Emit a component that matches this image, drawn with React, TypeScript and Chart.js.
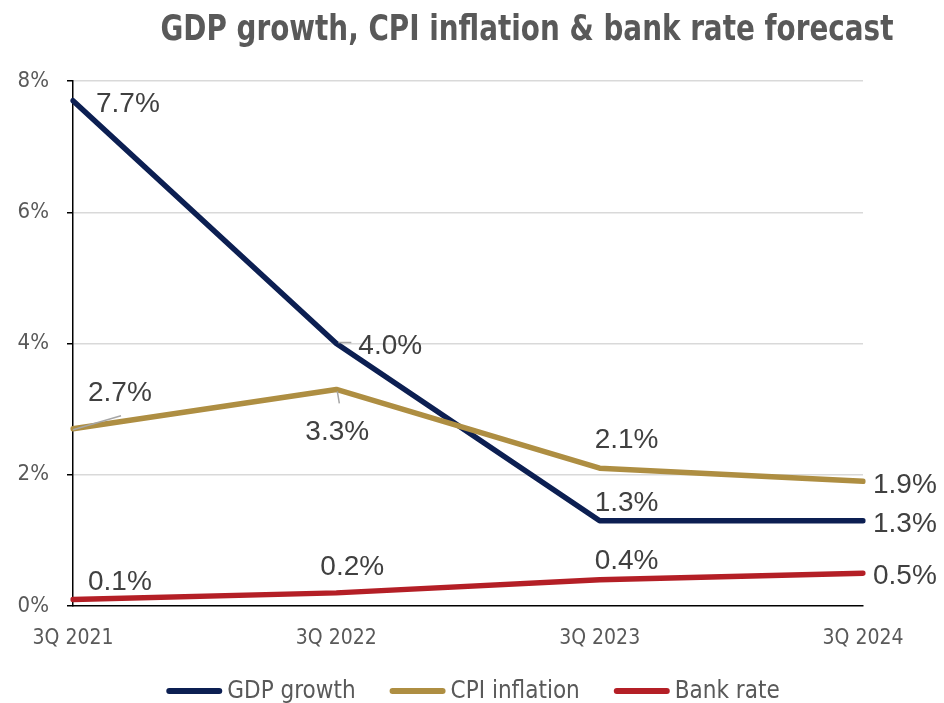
import React, { useEffect, useRef } from "react";
import { Chart, registerables } from "chart.js";

Chart.register(...registerables);

const categories = ["3Q 2021", "3Q 2022", "3Q 2023", "3Q 2024"];
const gdpGrowth = [7.7, 4.0, 1.3, 1.3];
const cpiInflation = [2.7, 3.3, 2.1, 1.9];
const bankRate = [0.1, 0.2, 0.4, 0.5];
const yTicks = [0, 2, 4, 6, 8];
const seriesNames = ["GDP growth", "CPI inflation", "Bank rate"];
const seriesColors = ["#0c1f52", "#ae8e42", "#b41f26"];
const titleText = "GDP growth, CPI inflation & bank rate forecast";

// label offsets (style): [dx to text left, dy to text middle, leader?]
type Off = { dx: number; dy: number; leader?: [number, number, number, number] };
const labelOffsets: Off[][] = [
  [
    { dx: 23, dy: 1 },
    { dx: 22, dy: 0, leader: [2, -1, 15, -1] },
    { dx: -5, dy: -20 },
    { dx: 10, dy: 1 },
  ],
  [
    { dx: 15, dy: -38, leader: [0, 1, 48, -13] },
    { dx: -31, dy: 41, leader: [1, 2, 3, 14] },
    { dx: -5, dy: -30 },
    { dx: 10, dy: 2 },
  ],
  [
    { dx: 15, dy: -19 },
    { dx: -16, dy: -28 },
    { dx: -5, dy: -21 },
    { dx: 10, dy: 1 },
  ],
];

const NARROW = '"Liberation Sans Narrow", "DejaVu Sans Condensed", "Arial Narrow", sans-serif';
const LABEL_FONT = '"Liberation Sans", Arial, sans-serif';

const decoPlugin = {
  id: "deco",
  afterDatasetsDraw(chart: any) {
    const ctx = chart.ctx;
    ctx.save();
    chart.data.datasets.forEach((ds: any, i: number) => {
      const meta = chart.getDatasetMeta(i);
      meta.data.forEach((pt: any, j: number) => {
        const off = labelOffsets[i][j];
        if (off.leader) {
          ctx.strokeStyle = "#a6a6a6";
          ctx.lineWidth = 1.5;
          ctx.beginPath();
          ctx.moveTo(pt.x + off.leader[0], pt.y + off.leader[1]);
          ctx.lineTo(pt.x + off.leader[2], pt.y + off.leader[3]);
          ctx.stroke();
        }
        ctx.fillStyle = "#404040";
        ctx.font = `28px ${LABEL_FONT}`;
        ctx.textAlign = "left";
        ctx.textBaseline = "alphabetic";
        ctx.fillText(ds.data[j].toFixed(1) + "%", pt.x + off.dx, pt.y + off.dy + 10);
      });
    });
    ctx.restore();
  },
  afterDraw(chart: any) {
    const ctx = chart.ctx;
    ctx.save();
    // title, condensed to fit its width in the reference
    ctx.fillStyle = "#595959";
    ctx.font = `bold 35px ${NARROW}`;
    ctx.textAlign = "center";
    ctx.textBaseline = "alphabetic";
    const tw = ctx.measureText(titleText).width;
    const sx = Math.min(1, 733 / tw);
    ctx.save();
    ctx.translate(527, 40);
    ctx.scale(sx, 1);
    ctx.fillText(titleText, 0, 0);
    ctx.restore();
    // legend
    ctx.font = `24px ${NARROW}`;
    const lineLen = 56;
    const gapText = 5;
    const gapItem = 34;
    const widths = seriesNames.map((n) => ctx.measureText(n).width);
    const total = widths.reduce((a, w) => a + lineLen + gapText + w, 0) + gapItem * (seriesNames.length - 1);
    let x = 473 - total / 2;
    const y = 691;
    seriesNames.forEach((n, i) => {
      ctx.strokeStyle = seriesColors[i];
      ctx.lineWidth = 6;
      ctx.lineCap = "round";
      ctx.beginPath();
      ctx.moveTo(x + 3, y);
      ctx.lineTo(x + lineLen - 3, y);
      ctx.stroke();
      ctx.fillStyle = "#595959";
      ctx.textAlign = "left";
      ctx.textBaseline = "middle";
      ctx.fillText(n, x + lineLen + gapText, y + 1);
      x += lineLen + gapText + widths[i] + gapItem;
    });
    ctx.restore();
  },
};

export default function App() {
  const ref = useRef<HTMLCanvasElement>(null);
  useEffect(() => {
    document.body.style.margin = "0";
    const mk = (i: number, data: number[], order: number) => ({
      label: seriesNames[i],
      data,
      borderColor: seriesColors[i],
      backgroundColor: seriesColors[i],
      borderWidth: 5.5,
      borderCapStyle: "round",
      borderJoinStyle: "round",
      pointRadius: 0,
      tension: 0,
      fill: false,
      order,
    });
    const chart = new Chart(ref.current!, {
      type: "line",
      data: {
        labels: categories,
        datasets: [mk(0, gdpGrowth, 3), mk(1, cpiInflation, 1), mk(2, bankRate, 2)] as any,
      },
      options: {
        animation: false,
        responsive: false,
        layout: { padding: { top: 81, right: 81, bottom: 0, left: 0 } },
        plugins: { legend: { display: false }, title: { display: false }, tooltip: { enabled: false } },
        scales: {
          x: {
            offset: false,
            grid: { display: false, drawOnChartArea: false, drawTicks: true, tickLength: 7, color: "#000", lineWidth: 1.5 },
            border: { display: true, color: "#000", width: 1.5 },
            ticks: { color: "#595959", font: { family: NARROW, size: 21 }, padding: 13, maxRotation: 0 },
            afterFit(scale: any) {
              scale.height = 97;
            },
          },
          y: {
            min: 0,
            max: 8,
            afterBuildTicks(scale: any) {
              scale.ticks = yTicks.map((v) => ({ value: v }));
            },
            grid: {
              color: (c: any) => (c.tick && c.tick.value === 0 ? "rgba(0,0,0,0)" : "#d9d9d9"),
              lineWidth: 1.5,
              drawTicks: true,
              tickLength: 6,
              tickColor: "#000",
              tickWidth: 1.5,
            } as any,
            border: { display: true, color: "#000", width: 1.5 },
            ticks: {
              color: "#595959",
              font: { family: NARROW, size: 22 },
              padding: 18,
              callback: (v: any) => v + "%",
            },
            afterFit(scale: any) {
              scale.width = 73;
            },
          },
        },
      },
      plugins: [decoPlugin],
    } as any);
    return () => chart.destroy();
  }, []);
  return (
    <div style={{ position: "fixed", left: 0, top: 0, width: 944, height: 703, background: "#fff" }}>
      <canvas ref={ref} width={944} height={703} />
    </div>
  );
}
